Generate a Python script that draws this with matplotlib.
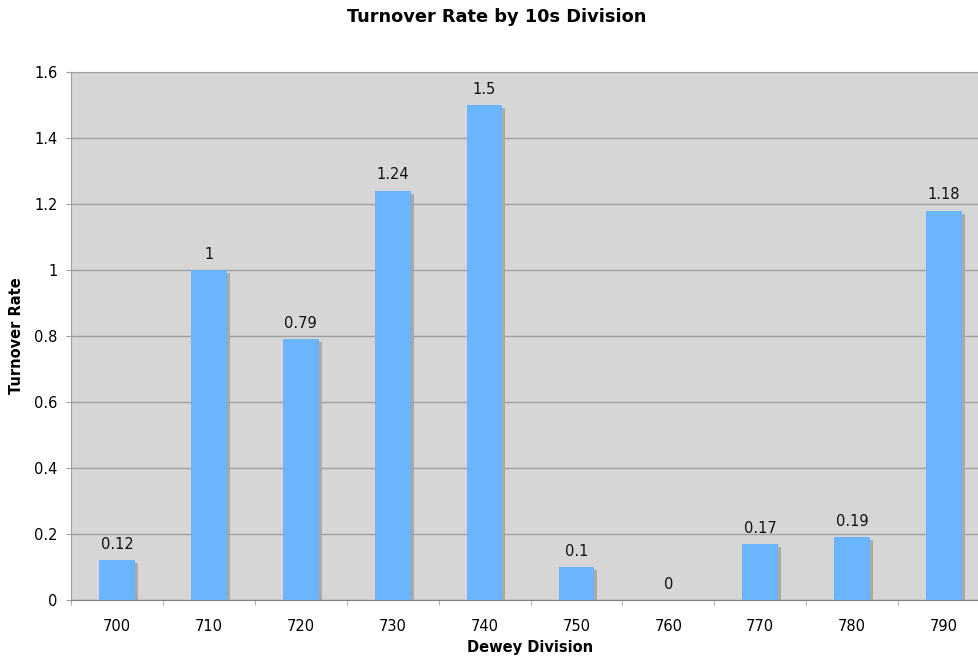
import numpy as np
import matplotlib
matplotlib.use("Agg")
import matplotlib.pyplot as plt
from matplotlib.transforms import ScaledTranslation

# Turnover rate per Dewey 10s division
divisions = ["700", "710", "720", "730", "740", "750", "760", "770", "780", "790"]
turnover = [0.12, 1.0, 0.79, 1.24, 1.5, 0.1, 0.0, 0.17, 0.19, 1.18]
value_labels = ["0.12", "1", "0.79", "1.24", "1.5", "0.1", "0", "0.17", "0.19", "1.18"]
y_ticks = [0, 0.2, 0.4, 0.6, 0.8, 1.0, 1.2, 1.4, 1.6]
y_tick_labels = ["0", "0.2", "0.4", "0.6", "0.8", "1", "1.2", "1.4", "1.6"]

plt.rcParams["font.family"] = "DejaVu Sans"

fig = plt.figure(figsize=(9.79, 6.56), dpi=100)
ax = fig.add_axes([71/979, 56/656, 919/979, 528/656])
ax.set_facecolor("#D6D6D6")

x = np.arange(len(divisions))
width = 0.39

# drop shadow behind each bar
shadow = ax.transData + ScaledTranslation(3/100, -3/100, fig.dpi_scale_trans)
ax.bar(x, turnover, width=width, color="#A9A9A9", zorder=2, transform=shadow)
ax.bar(x, turnover, width=width, color="#6BB5FF", zorder=3)

for xi, v, lab in zip(x, turnover, value_labels):
    ax.annotate(lab, (xi, v), xytext=(0, 6), textcoords="offset points",
                ha="center", va="bottom", fontsize=10.5, color="#111111")

ax.set_xlim(-0.5, len(divisions) - 0.5)
ax.set_ylim(0, 1.6)
ax.set_yticks(y_ticks)
ax.set_yticklabels(y_tick_labels)
ax.yaxis.grid(True, color="#A0A0A0", linewidth=1)
ax.set_axisbelow(True)

ax.set_xticks(x)
ax.set_xticklabels(divisions)
ax.set_xticks(np.arange(len(divisions) + 1) - 0.5, minor=True)
ax.tick_params(axis="x", which="major", length=0, pad=14, labelsize=10.5)
ax.tick_params(axis="x", which="minor", length=3.6, color="#A0A0A0", direction="out")
ax.tick_params(axis="y", length=3.6, color="#A0A0A0", labelsize=10.5, pad=6)

for side in ["left", "top"]:
    ax.spines[side].set_color("#A0A0A0")
ax.spines["bottom"].set_color("#808080")
ax.spines["right"].set_visible(False)

ax.set_xlabel("Dewey Division", fontsize=10.5, fontweight="bold", labelpad=4)
ax.set_ylabel("Turnover Rate", fontsize=10.5, fontweight="bold", labelpad=7)
fig.text(497/979, 1 - 17/656, "Turnover Rate by 10s Division", ha="center", va="center",
         fontsize=12.8, fontweight="bold")

fig.savefig("out.png", dpi=100)
